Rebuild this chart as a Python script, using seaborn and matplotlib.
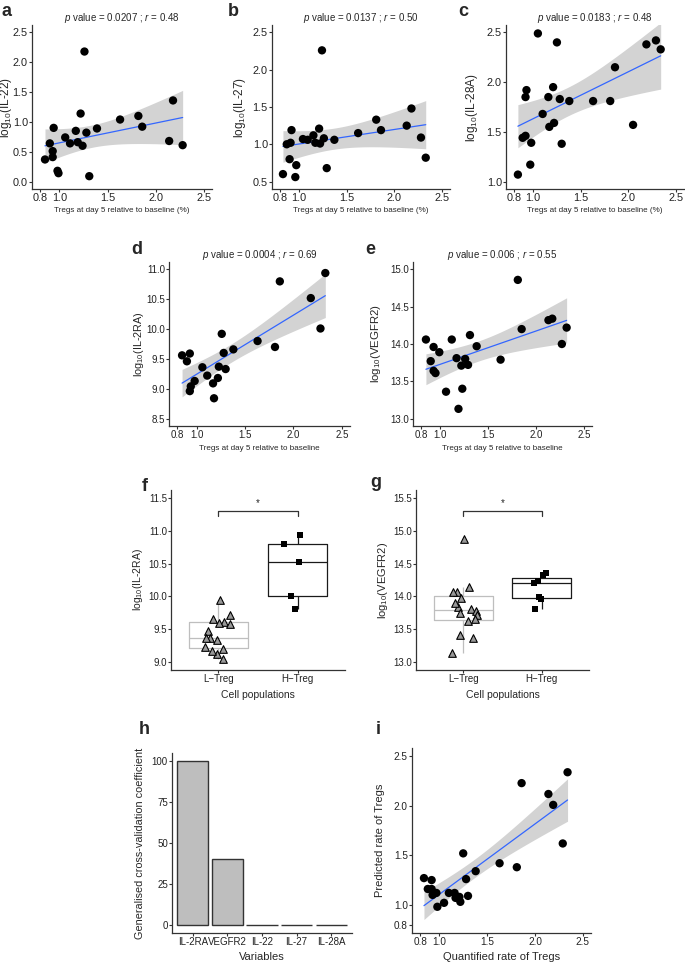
import numpy as np
import pandas as pd
import matplotlib
matplotlib.use("Agg")
import matplotlib.pyplot as plt
import seaborn as sns

# Data
tregs_a = [0.85, 0.90, 0.93, 0.93, 0.94, 0.98, 0.99, 1.06, 1.11, 1.17, 1.19, 1.22,
           1.24, 1.26, 1.28, 1.31, 1.39, 1.63, 1.82, 1.86, 2.14, 2.18, 2.28]
il22 = [0.37, 0.64, 0.41, 0.51, 0.90, 0.18, 0.14, 0.74, 0.64, 0.85, 0.66, 1.14,
        0.60, 2.18, 0.82, 0.09, 0.89, 1.04, 1.10, 0.92, 0.68, 1.36, 0.61]

tregs_b = [0.83, 0.87, 0.90, 0.91, 0.92, 0.96, 0.97, 1.04, 1.09, 1.15, 1.17, 1.21,
           1.22, 1.24, 1.26, 1.29, 1.37, 1.62, 1.81, 1.86, 2.13, 2.18, 2.28, 2.33]
il27 = [0.60, 1.00, 0.80, 1.02, 1.19, 0.56, 0.72, 1.07, 1.06, 1.12, 1.02, 1.21,
        1.01, 2.26, 1.08, 0.68, 1.06, 1.15, 1.33, 1.19, 1.25, 1.48, 1.09, 0.82]

tregs_c = [0.84, 0.89, 0.92, 0.92, 0.93, 0.97, 0.98, 1.05, 1.10, 1.16, 1.17, 1.21,
           1.22, 1.25, 1.28, 1.30, 1.38, 1.63, 1.81, 1.86, 2.05, 2.19, 2.29, 2.34]
il28a = [1.07, 1.44, 1.85, 1.46, 1.92, 1.17, 1.39, 2.49, 1.68, 1.85, 1.55, 1.95,
         1.59, 2.40, 1.83, 1.38, 1.81, 1.81, 1.81, 2.15, 1.57, 2.38, 2.42, 2.33]

tregs_d = [0.85, 0.90, 0.93, 0.94, 0.93, 0.98, 1.06, 1.11, 1.17, 1.18, 1.22,
           1.23, 1.26, 1.28, 1.30, 1.38, 1.63, 1.81, 1.86, 2.18, 2.28, 2.33]
il2ra = [9.56, 9.46, 9.59, 9.04, 8.96, 9.13, 9.36, 9.22, 9.09, 8.84, 9.18,
         9.37, 9.92, 9.60, 9.33, 9.66, 9.80, 9.70, 10.80, 10.52, 10.01, 10.94]

tregs_e = [0.85, 0.90, 0.93, 0.93, 0.95, 0.99, 1.06, 1.12, 1.17, 1.19, 1.22, 1.23,
           1.26, 1.29, 1.31, 1.38, 1.63, 1.81, 1.85, 2.13, 2.17, 2.27, 2.32]
vegfr2 = [14.06, 13.77, 13.96, 13.64, 13.61, 13.89, 13.36, 14.06, 13.81, 13.13, 13.71, 13.40,
          13.80, 13.72, 14.12, 13.97, 13.79, 14.86, 14.20, 14.32, 14.34, 14.00, 14.22]

groups = ["L\u2212Treg", "H\u2212Treg"]
ltreg_il2ra = [9.94, 9.61, 9.66, 9.60, 9.71, 9.58, 9.47, 9.37, 9.36, 9.34, 9.23, 9.12, 9.20, 9.16, 9.05]
htreg_il2ra = [10.94, 10.80, 10.52, 10.01, 9.81]
ltreg_vegfr2 = [14.06, 14.14, 13.98, 14.07, 14.88, 13.81, 13.84, 13.90, 13.74, 13.77, 13.72,
                13.62, 13.65, 13.37, 13.41, 13.14]
htreg_vegfr2 = [14.35, 14.32, 14.23, 14.21, 13.99, 13.96, 13.80]

variables = ["IL-2RA", "VEGFR2", "IL-22", "IL-27", "IL-28A"]
gcv = [100, 40, 0, 0, 0]

quantified = [0.84, 0.88, 0.92, 0.92, 0.93, 0.97, 0.98, 1.05, 1.10, 1.16, 1.17, 1.21,
              1.22, 1.25, 1.28, 1.30, 1.38, 1.63, 1.81, 1.86, 2.14, 2.19, 2.29, 2.34]
predicted = [1.27, 1.16, 1.25, 1.16, 1.10, 1.12, 0.98, 1.02, 1.12, 1.12, 1.07, 1.08,
             1.03, 1.52, 1.26, 1.09, 1.34, 1.42, 1.38, 2.23, 2.12, 2.01, 1.62, 2.34]

# Style
sns.set_theme(style="ticks")
plt.rcParams["font.family"] = ["Liberation Sans", "DejaVu Sans"]
plt.rcParams["mathtext.fontset"] = "custom"
plt.rcParams["mathtext.rm"] = "Liberation Sans"
plt.rcParams["mathtext.it"] = "Liberation Sans:italic"
plt.rcParams["mathtext.default"] = "regular"
np.random.seed(3)

W, H = 685, 963
fig = plt.figure(figsize=(6.85, 9.63), dpi=100)


def add_ax(x0, y0, x1, y1):
    # pixel box -> figure fraction
    return fig.add_axes([x0 / W, 1 - y1 / H, (x1 - x0) / W, (y1 - y0) / H])


def style_ax(ax, labelsize=7.5):
    sns.despine(ax=ax)
    for s in ["left", "bottom"]:
        ax.spines[s].set_color("#333333")
        ax.spines[s].set_linewidth(0.9)
    ax.tick_params(length=2, width=0.8, color="#333333", labelsize=labelsize,
                   labelcolor="#222222", pad=1)


def place_labels(ax, xlab_px, ylab_px):
    # put axis label centres a fixed number of pixels away from the spines
    pos = ax.get_position()
    ax.xaxis.set_label_coords(0.5, -xlab_px / (pos.height * H))
    ax.xaxis.label.set_va("center")
    ax.yaxis.set_label_coords(-ylab_px / (pos.width * W), 0.5)
    ax.yaxis.label.set_va("center")


def lm_band(x, y):
    # 95% confidence band of a linear fit (like geom_smooth(method = "lm"))
    x, y = np.asarray(x), np.asarray(y)
    n = len(x)
    b, a = np.polyfit(x, y, 1)
    resid = y - (a + b * x)
    s = np.sqrt(np.sum(resid ** 2) / (n - 2))
    sxx = np.sum((x - x.mean()) ** 2)
    z, df = 1.959964, n - 2
    t = z + (z ** 3 + z) / (4 * df) + (5 * z ** 5 + 16 * z ** 3 + 3 * z) / (96 * df ** 2)
    grid = np.linspace(x.min(), x.max(), 100)
    se = s * np.sqrt(1 / n + (grid - x.mean()) ** 2 / sxx)
    fit = a + b * grid
    return grid, fit - t * se, fit + t * se


def scatter_panel(ax, x, y, ylabel, title, xlabel, ylim, yticks, ylab_px,
                  xlab_px=21.5, tick_size=7.8, ylab_size=8.5, xlim=(0.715, 2.585)):
    df = pd.DataFrame({"x": x, "y": y})
    grid, lo, hi = lm_band(x, y)
    ax.fill_between(grid, lo, hi, color="#D3D3D3", lw=0, zorder=1)
    sns.regplot(data=df, x="x", y="y", ax=ax, scatter=False, ci=None,
                color="#3366FF", line_kws={"lw": 0.9, "zorder": 3})
    sns.scatterplot(data=df, x="x", y="y", ax=ax, color="black", s=36,
                    edgecolor="none", zorder=4)
    ax.set_xlim(*xlim)
    ax.set_ylim(*ylim)
    ax.set_xticks([0.8, 1.0, 1.5, 2.0, 2.5])
    ax.set_yticks(yticks)
    if title:
        ax.set_title(title, fontsize=7, pad=2.5)
    style_ax(ax, labelsize=tick_size)
    ax.set_xlabel(xlabel, fontsize=5.8)
    ax.set_ylabel(ylabel, fontsize=ylab_size)
    place_labels(ax, xlab_px, ylab_px)


def box_panel(ax, low, high, ylabel, ylim, yticks, bracket_y, dip, ylab_px, ylab_size):
    df = pd.DataFrame({"group": [groups[0]] * len(low) + [groups[1]] * len(high),
                       "value": low + high})
    sns.boxplot(data=df, x="group", y="value", hue="group", order=groups, hue_order=groups,
                palette={groups[0]: "#BEBEBE", groups[1]: "#1A1A1A"}, fill=False,
                width=0.75, showfliers=False, showcaps=False, linewidth=0.9,
                legend=False, ax=ax)
    sns.stripplot(data=df[df.group == groups[0]], x="group", y="value", order=groups,
                  marker="^", color="#999999", edgecolor="black", linewidth=0.8,
                  size=5.5, jitter=0.18, ax=ax, zorder=3)
    sns.stripplot(data=df[df.group == groups[1]], x="group", y="value", order=groups,
                  marker="s", color="black", size=4.5, jitter=0.18, ax=ax, zorder=3)
    ax.plot([0, 0, 1, 1], [bracket_y - dip, bracket_y, bracket_y, bracket_y - dip],
            color="#333333", lw=0.9)
    ax.text(0.5, bracket_y + dip * 0.6, "*", ha="center", va="bottom", fontsize=7)
    ax.set_xlim(-0.6, 1.6)
    ax.set_ylim(*ylim)
    ax.set_yticks(yticks)
    style_ax(ax, labelsize=7)
    ax.set_xlabel("Cell populations", fontsize=7.5)
    ax.set_ylabel(ylabel, fontsize=ylab_size)
    place_labels(ax, 25, ylab_px)


# a, b, c
ax = add_ax(32, 25, 212, 189)
scatter_panel(ax, tregs_a, il22, r"log$_{10}$(IL-22)",
              r"$\it{p}$ value = 0.0207 ; $\it{r}$ = 0.48",
              "Tregs at day 5 relative to baseline (%)",
              (-0.125, 2.625), [0.0, 0.5, 1.0, 1.5, 2.0, 2.5], 25.5)

ax = add_ax(272, 25, 450, 189)
scatter_panel(ax, tregs_b, il27, r"log$_{10}$(IL-27)",
              r"$\it{p}$ value = 0.0137 ; $\it{r}$ = 0.50",
              "Tregs at day 5 relative to baseline (%)",
              (0.4, 2.6), [0.5, 1.0, 1.5, 2.0, 2.5], 32)

ax = add_ax(506, 25, 684, 189)
scatter_panel(ax, tregs_c, il28a, r"log$_{10}$(IL-28A)",
              r"$\it{p}$ value = 0.0183 ; $\it{r}$ = 0.48",
              "Tregs at day 5 relative to baseline (%)",
              (0.925, 2.575), [1.0, 1.5, 2.0, 2.5], 34)

# d, e
ax = add_ax(169, 262, 350, 426)
scatter_panel(ax, tregs_d, il2ra, r"log$_{10}$(IL-2RA)",
              r"$\it{p}$ value = 0.0004 ; $\it{r}$ = 0.69",
              "Tregs at day 5 relative to baseline",
              (8.375, 11.125), [8.5, 9.0, 9.5, 10.0, 10.5, 11.0], 30, xlab_px=22.5,
              tick_size=7, ylab_size=7.8)

ax = add_ax(413, 262, 592, 426)
scatter_panel(ax, tregs_e, vegfr2, r"log$_{10}$(VEGFR2)",
              r"$\it{p}$ value = 0.006 ; $\it{r}$ = 0.55",
              "Tregs at day 5 relative to baseline",
              (12.9, 15.1), [13.0, 13.5, 14.0, 14.5, 15.0], 37, xlab_px=22.5,
              tick_size=7, ylab_size=8.2)

# f, g
ax = add_ax(171, 490, 345, 670)
box_panel(ax, ltreg_il2ra, htreg_il2ra, r"log$_{10}$(IL-2RA)",
          (8.875, 11.625), [9.0, 9.5, 10.0, 10.5, 11.0, 11.5], 11.30, 0.07, 33, 7.5)

ax = add_ax(416, 490, 589, 670)
box_panel(ax, ltreg_vegfr2, htreg_vegfr2, r"log$_{10}$(VEGFR2)",
          (12.875, 15.625), [13.0, 13.5, 14.0, 14.5, 15.0, 15.5], 15.30, 0.07, 33, 8)

# h
ax = add_ax(172, 753, 352, 933)
sns.barplot(x=variables, y=gcv, order=variables, color="#BEBEBE", edgecolor="#333333",
            linewidth=1.0, width=0.9, saturation=1, ax=ax)
ax.set_xlim(-0.6, 4.6)
ax.set_ylim(-5, 105)
ax.set_yticks([0, 25, 50, 75, 100])
style_ax(ax, labelsize=7)
ax.set_xlabel("Variables", fontsize=8)
ax.set_ylabel("Generalised cross-validation coefficient", fontsize=7.8)
place_labels(ax, 23.5, 32)

# i
ax = add_ax(412, 748, 591, 933)
scatter_panel(ax, quantified, predicted, "Predicted rate of Tregs", None,
              "Quantified rate of Tregs", (0.715, 2.585), [0.8, 1.0, 1.5, 2.0, 2.5], 32,
              xlab_px=23.5, tick_size=7.2, ylab_size=8)
ax.xaxis.label.set_fontsize(8)

# panel letters
letters = {"a": (2, 3), "b": (228, 3), "c": (458, 3), "d": (131, 241), "e": (365, 241),
           "f": (142, 478), "g": (370, 474), "h": (139, 721), "i": (376, 721)}
for k, (px, py) in letters.items():
    fig.text(px / W, 1 - py / H, k, fontsize=13, fontweight="bold", ha="left", va="top")

fig.savefig("out.png", dpi=100, facecolor="white")
